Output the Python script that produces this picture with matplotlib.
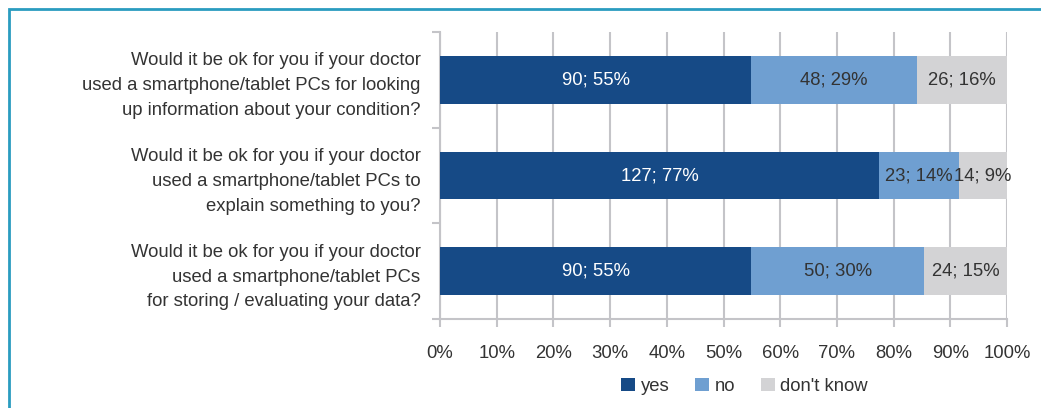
import numpy as np
import matplotlib.pyplot as plt
from matplotlib.patches import Rectangle

plt.rcParams['font.family'] = ['Liberation Sans', 'DejaVu Sans']

questions = [
    "Would it be ok for you if your doctor\nused a smartphone/tablet PCs for looking\nup information about your condition?",
    "Would it be ok for you if your doctor\nused a smartphone/tablet PCs to\nexplain something to you?",
    "Would it be ok for you if your doctor\nused a smartphone/tablet PCs\nfor storing / evaluating your data?",
]
series = ["yes", "no", "don't know"]
yes = [90, 127, 90]
no = [48, 23, 50]
dont_know = [26, 14, 24]
pct_yes = [55, 77, 55]
pct_no = [29, 14, 30]
pct_dk = [16, 9, 15]

colors = ['#164a86', '#6f9fd1', '#d3d3d5']
text_colors = ['white', '#333333', '#333333']
txt = '#333333'
grid = '#c4c4c8'
fs = 13.3

counts = np.array([yes, no, dont_know], dtype=float)
shares = counts / counts.sum(axis=0)
pcts = [pct_yes, pct_no, pct_dk]

fig = plt.figure(figsize=(10.41, 4.08), dpi=100)
ax = fig.add_axes([440/1041, 1-319/408, 567/1041, 287/408])

y = np.arange(len(questions))
left = np.zeros(len(questions))
for i, name in enumerate(series):
    ax.barh(y, shares[i], left=left, height=0.5, color=colors[i], label=name, zorder=3)
    for j in range(len(questions)):
        ax.text(left[j] + shares[i][j] / 2, y[j], f"{int(counts[i][j])}; {pcts[i][j]}%",
                ha='center', va='center', color=text_colors[i], fontsize=fs, zorder=4)
    left += shares[i]

ax.set_xlim(0, 1)
ax.set_ylim(2.5, -0.5)
ax.set_xticks(np.arange(0, 1.01, 0.1))
ax.set_xticklabels([f"{int(round(v*100))}%" for v in np.arange(0, 1.01, 0.1)])
ax.set_yticks(y)
ax.set_yticklabels(questions, linespacing=1.6)
ax.set_yticks([-0.5, 0.5, 1.5, 2.5], minor=True)
ax.tick_params(axis='y', which='major', length=0, pad=14, labelsize=fs, labelcolor=txt)
ax.tick_params(axis='y', which='minor', length=6, color=grid, width=1.5)
ax.tick_params(axis='x', length=6, color=grid, width=1.5, pad=13, labelsize=fs, labelcolor=txt)
ax.grid(axis='x', color=grid, linewidth=1.5, zorder=0)
for s in ['top', 'right']:
    ax.spines[s].set_visible(False)
for s in ['left', 'bottom']:
    ax.spines[s].set_color(grid)
    ax.spines[s].set_linewidth(1.5)

ax.legend(loc='upper center', bbox_to_anchor=(0.537, -0.16), ncol=3, frameon=False,
          fontsize=fs, handlelength=0.75, handleheight=0.75, handletextpad=0.3,
          columnspacing=1.4, labelcolor=txt, borderpad=0.2)

fig.patches.append(Rectangle((9/1041, -0.1), 1.2, 1-9/408 + 0.1, transform=fig.transFigure,
                             fill=False, edgecolor='#2a9cc0', linewidth=2))

fig.savefig('out.png', dpi=100)
